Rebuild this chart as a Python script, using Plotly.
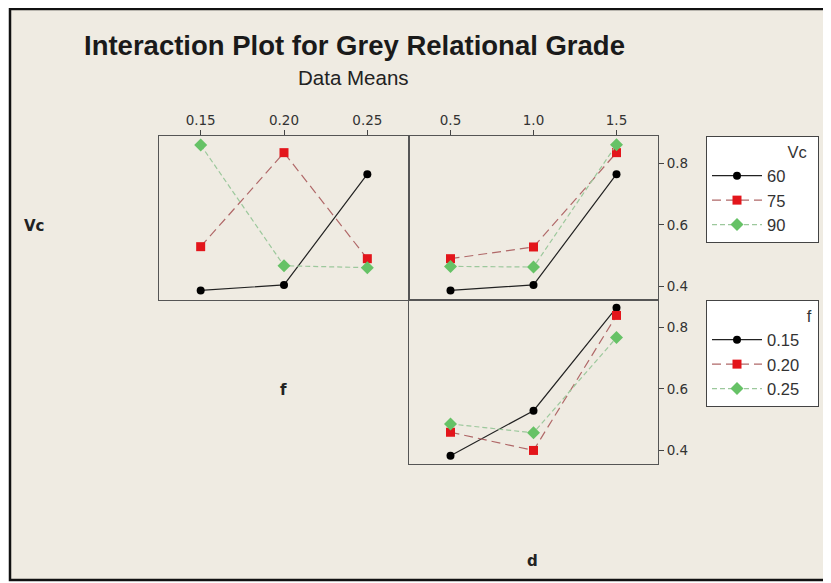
import plotly.graph_objects as go

# ---- data ----
f_levels = [0.15, 0.20, 0.25]
d_levels = [0.5, 1.0, 1.5]
vc_names = ["60", "75", "90"]
f_names = ["0.15", "0.20", "0.25"]

# Vc x f means
vc_f = {
    "60": [0.387, 0.405, 0.764],
    "75": [0.529, 0.834, 0.490],
    "90": [0.859, 0.467, 0.461],
}
# Vc x d means
vc_d = {
    "60": [0.387, 0.405, 0.764],
    "75": [0.490, 0.528, 0.834],
    "90": [0.465, 0.463, 0.860],
}
# f x d means
f_d = {
    "0.15": [0.383, 0.529, 0.863],
    "0.20": [0.459, 0.400, 0.838],
    "0.25": [0.486, 0.457, 0.766],
}

x_tick_f = ["0.15", "0.20", "0.25"]
x_tick_d = ["0.5", "1.0", "1.5"]
y_ticks = [0.4, 0.6, 0.8]

# ---- styles ----
styles = [
    dict(line=dict(color="#222222", width=1.2, dash="solid"),
         marker=dict(symbol="circle", size=8, color="#000000")),
    dict(line=dict(color="#B06868", width=1.2, dash="9px,5px"),
         marker=dict(symbol="square", size=9, color="#E3151B")),
    dict(line=dict(color="#9CC89C", width=1.2, dash="5px,3px"),
         marker=dict(symbol="diamond", size=10, color="#66C266")),
]

fig = go.Figure()

for i, name in enumerate(vc_names):
    st = styles[i]
    fig.add_trace(go.Scatter(x=f_levels, y=vc_f[name], mode="lines+markers",
                             name=name + "\u00a0" * 6, legendgroup="vc" + name, showlegend=True,
                             legend="legend", xaxis="x", yaxis="y",
                             line=st["line"], marker=st["marker"]))
    fig.add_trace(go.Scatter(x=d_levels, y=vc_d[name], mode="lines+markers",
                             name=name, legendgroup="vc" + name, showlegend=False,
                             xaxis="x2", yaxis="y2",
                             line=st["line"], marker=st["marker"]))

for i, name in enumerate(f_names):
    st = styles[i]
    fig.add_trace(go.Scatter(x=d_levels, y=f_d[name], mode="lines+markers",
                             name=name + "\u00a0" * 3, legendgroup="f" + name, showlegend=True,
                             legend="legend2", xaxis="x3", yaxis="y3",
                             line=st["line"], marker=st["marker"]))

# the page body adds an 8px offset; figure sized to fit the window
OFF = 8
W, H = 831 - OFF, 583 - OFF
def px(x):
    return (x - OFF) / W
def py(y):
    return 1 - (y - OFF) / H

col1 = [px(159), px(409)]
col2 = [px(409), px(658)]
row1 = [py(300), py(136)]
row2 = [py(464), py(300)]
yr = [0.356, 0.888]

tickfont = dict(family="DejaVu Sans", size=13.5, color="#333333")
axis_common = dict(showline=True, mirror=True, linecolor="#555555", linewidth=1,
                   showgrid=False, zeroline=False, fixedrange=True)
legfont = dict(family="Liberation Sans", size=16.5, color="#333333")

fig.update_layout(
    width=W, height=H,
    margin=dict(l=0, r=0, t=0, b=0),
    paper_bgcolor="white",
    plot_bgcolor="white",
    showlegend=True,
    xaxis=dict(domain=col1, range=[0.125, 0.275], anchor="y", side="top",
               tickvals=f_levels, ticktext=x_tick_f, ticks="outside", ticklen=5,
               tickcolor="#444444", tickfont=tickfont, **axis_common),
    yaxis=dict(domain=row1, range=yr, anchor="x", showticklabels=False,
               ticks="", **axis_common),
    xaxis2=dict(domain=col2, range=[0.25, 1.75], anchor="y2", side="top",
                tickvals=d_levels, ticktext=x_tick_d, ticks="outside", ticklen=5,
                tickcolor="#444444", tickfont=tickfont, **axis_common),
    yaxis2=dict(domain=row1, range=yr, anchor="x2", side="right",
                tickvals=y_ticks, ticktext=["0.4", "0.6", "0.8"], ticks="outside",
                ticklen=5, tickcolor="#444444", tickfont=tickfont, **axis_common),
    xaxis3=dict(domain=col2, range=[0.25, 1.75], anchor="y3", showticklabels=False,
                ticks="", **axis_common),
    yaxis3=dict(domain=row2, range=yr, anchor="x3", side="right",
                tickvals=y_ticks, ticktext=["0.4", "0.6", "0.8"], ticks="outside",
                ticklen=5, tickcolor="#444444", tickfont=tickfont, **axis_common),
    legend=dict(x=px(706), y=py(136), xanchor="left", yanchor="top",
                bgcolor="white", bordercolor="#444444", borderwidth=1,
                font=legfont, itemwidth=50,
                title=dict(text="Vc\u00a0\u00a0", side="top right", font=legfont),
                tracegroupgap=0, itemclick=False, itemdoubleclick=False),
    legend2=dict(x=px(706), y=py(300), xanchor="left", yanchor="top",
                 bgcolor="white", bordercolor="#444444", borderwidth=1,
                 font=legfont, itemwidth=50,
                 title=dict(text="f\u00a0", side="top right", font=legfont),
                 tracegroupgap=0, itemclick=False, itemdoubleclick=False),
    shapes=[
        dict(type="rect", xref="paper", yref="paper", layer="below",
             x0=px(10), x1=1.05, y0=py(580), y1=py(9),
             fillcolor="#EFEBE2", line=dict(color="#111111", width=2.5)),
    ],
    annotations=[
        dict(text="<b>Interaction Plot for Grey Relational Grade</b>", x=px(354), y=py(45),
             xref="paper", yref="paper", showarrow=False, xanchor="center", yanchor="middle",
             font=dict(family="Liberation Sans", size=27.5, color="#1a1a1a")),
        dict(text="Data Means", x=px(353.5), y=py(77), xref="paper", yref="paper",
             showarrow=False, xanchor="center", yanchor="middle",
             font=dict(family="Liberation Sans", size=20.5, color="#222222")),
        dict(text="<b>Vc</b>", x=px(34.5), y=py(226), xref="paper", yref="paper",
             showarrow=False, xanchor="center", yanchor="middle",
             font=dict(family="DejaVu Sans", size=15, color="#222222")),
        dict(text="<b>f</b>", x=px(283), y=py(390), xref="paper", yref="paper",
             showarrow=False, xanchor="center", yanchor="middle",
             font=dict(family="DejaVu Sans", size=15, color="#222222")),
        dict(text="<b>d</b>", x=px(532), y=py(561), xref="paper", yref="paper",
             showarrow=False, xanchor="center", yanchor="middle",
             font=dict(family="DejaVu Sans", size=15, color="#222222")),
    ],
)

fig.write_html("out.html")
